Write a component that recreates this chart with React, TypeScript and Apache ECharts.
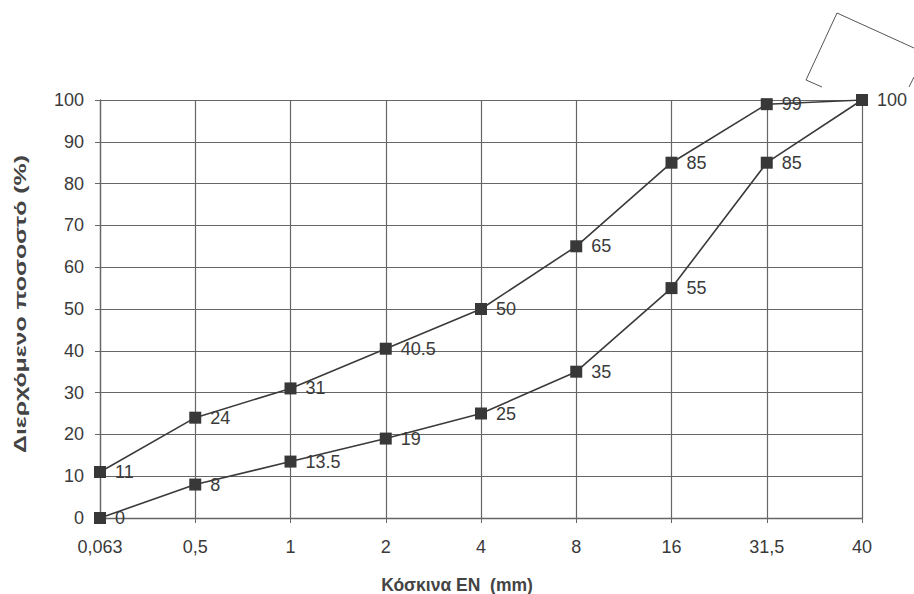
import React, { useEffect, useRef } from "react";
import * as echarts from "echarts";

const sieves = ["0,063", "0,5", "1", "2", "4", "8", "16", "31,5", "40"];
const upperLimit = [11, 24, 31, 40.5, 50, 65, 85, 99, 100];
const lowerLimit = [0, 8, 13.5, 19, 25, 35, 55, 85, 100];
const yTitle = "Διερχόμενο ποσοστό (%)";
const xTitle = "Κόσκινα EN  (mm)";

const ink = "#3a3a3a";
const gridInk = "#666666";
const numFont = "'Liberation Sans', Arial, sans-serif";

function measure(text: string, font: string): number {
  const c = document.createElement("canvas").getContext("2d");
  if (!c) return text.length * 10;
  c.font = font;
  return c.measureText(text).width;
}

export default function App() {
  const ref = useRef<HTMLDivElement>(null);
  useEffect(() => {
    if (!ref.current) return;
    const chart = echarts.init(ref.current, undefined, { renderer: "svg" });
    const lastIdx = lowerLimit.length - 1;
    const seriesStyle = (data: any[]) => ({
      type: "line",
      data,
      symbol: "rect",
      symbolSize: 12,
      lineStyle: { color: ink, width: 1.6 },
      itemStyle: { color: "#383838" },
      label: {
        show: true,
        position: "right",
        distance: 9,
        color: "#3a3a3a",
        fontSize: 18,
        fontFamily: numFont,
      },
      z: 3,
    });
    const lowerData = lowerLimit.map((v, i) =>
      i === lastIdx ? { value: v, label: { show: false } } : v
    );
    const yFont = "bold 17px 'Liberation Sans'";
    const yWidth = measure(yTitle, yFont) || 193;
    const yScale = 298 / yWidth;
    chart.setOption({
      animation: false,
      backgroundColor: "#ffffff",
      textStyle: { fontFamily: numFont },
      grid: { left: 100, top: 100, right: 52, bottom: 76, containLabel: false },
      xAxis: {
        type: "category",
        data: sieves,
        boundaryGap: false,
        axisLine: { show: true, lineStyle: { color: gridInk, width: 1.3 } },
        axisTick: { show: true, length: 5, alignWithLabel: true, lineStyle: { color: gridInk } },
        axisLabel: { fontSize: 18, color: "#3a3a3a", margin: 20, interval: 0, fontFamily: numFont },
        splitLine: { show: true, lineStyle: { color: gridInk, width: 1.2 } },
      },
      yAxis: {
        type: "value",
        min: 0,
        max: 100,
        interval: 10,
        axisLine: { show: true, lineStyle: { color: gridInk, width: 1.3 } },
        axisTick: { show: true, length: 5, lineStyle: { color: gridInk } },
        axisLabel: { fontSize: 18, color: "#3a3a3a", margin: 16, fontFamily: numFont },
        splitLine: { show: true, lineStyle: { color: gridInk, width: 1.2 } },
      },
      series: [seriesStyle(upperLimit), seriesStyle(lowerData)],
      graphic: [
        {
          type: "text",
          x: 20,
          y: 304,
          rotation: Math.PI / 2,
          scaleX: yScale,
          style: {
            text: yTitle,
            font: yFont,
            fill: "#444",
            align: "center",
            verticalAlign: "middle",
          },
        },
        {
          type: "text",
          x: 457,
          y: 585,
          style: {
            text: xTitle,
            font: "bold 17.5px 'Liberation Sans'",
            fill: "#444",
            align: "center",
            verticalAlign: "middle",
          },
        },
        {
          type: "polyline",
          shape: { points: [[822, 87], [806, 80], [837, 13], [914, 48]] },
          style: { stroke: "#555", lineWidth: 1, fill: null },
        },
        {
          type: "polyline",
          shape: { points: [[914, 77], [909, 87]] },
          style: { stroke: "#555", lineWidth: 1, fill: null },
        },
      ],
    });
    return () => chart.dispose();
  }, []);
  return (
    <div
      ref={ref}
      style={{ position: "fixed", left: 0, top: 0, width: 914, height: 594 }}
    />
  );
}
